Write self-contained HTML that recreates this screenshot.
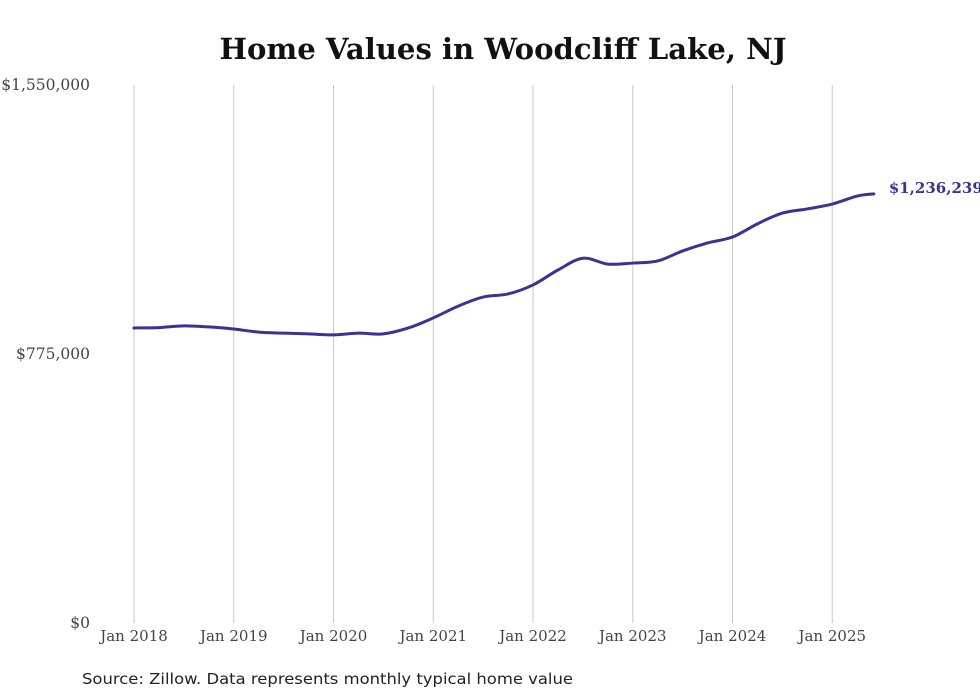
<!DOCTYPE html>
<html><head><meta charset="utf-8"><style>
body{margin:0;background:#fff;}
svg{display:block;}
</style></head><body>
<svg id="chart" width="980" height="699" viewBox="0 0 980 699" xmlns="http://www.w3.org/2000/svg">
<text x="503" y="59" text-anchor="middle" font-family="DejaVu Serif, Liberation Serif, serif" font-weight="bold" font-size="29" textLength="567" lengthAdjust="spacingAndGlyphs" fill="#111">Home Values in Woodcliff Lake, NJ</text>
<g id="grid"></g>
<g id="yaxis"></g>
<g id="xaxis"></g>
<path id="line" fill="none" stroke="#3b3294" stroke-width="3" stroke-linejoin="round" stroke-linecap="round"/>
<text id="endlabel" font-family="DejaVu Serif, Liberation Serif, serif" font-weight="bold" font-size="15" fill="#3b3294"></text>
<text x="82" y="684" font-family="DejaVu Sans, Liberation Sans, sans-serif" font-size="15.5" textLength="491" lengthAdjust="spacingAndGlyphs" fill="#222">Source: Zillow. Data represents monthly typical home value</text>
</svg>
<script>
// months since Jan 2018
const months = [0,3,6,9,12,15,18,21,24,27,30,33,36,39,42,45,48,51,54,57,60,63,66,69,72,75,78,81,84,87,89];
const values = [850000,851000,856000,853000,847000,838000,835000,833000,830000,835000,833000,850000,879000,913000,939000,948000,974000,1017000,1051000,1034000,1037000,1043000,1072000,1095000,1112000,1150000,1181000,1193000,1207000,1230000,1236239];
const yTicks = [0,775000,1550000];
const yTickLabels = ["$0","$775,000","$1,550,000"];
const xTickYears = [2018,2019,2020,2021,2022,2023,2024,2025];
const lastLabel = "$1,236,239";

const NS="http://www.w3.org/2000/svg";
const x0=134, pxPerMonth=99.75/12, yTop=85, yBot=623, yMax=1550000;
const xS=m=>x0+m*pxPerMonth;
const yS=v=>yBot-(v/yMax)*(yBot-yTop);
function mk(tag,attrs,parent){const e=document.createElementNS(NS,tag);for(const k in attrs)e.setAttribute(k,attrs[k]);parent.appendChild(e);return e;}
const grid=document.getElementById('grid'), xa=document.getElementById('xaxis'), ya=document.getElementById('yaxis');
xTickYears.forEach((yr)=>{
  const x=xS((yr-2018)*12);
  const l=mk('line',{x1:x,x2:x,y1:yTop,y2:yBot,stroke:'#c8c8c8','stroke-width':1},grid);
  
  
  const t=mk('text',{x:x,y:641,'text-anchor':'middle','font-family':'DejaVu Serif, Liberation Serif, serif','font-size':15,fill:'#444'},xa);
  t.textContent='Jan '+yr;
  
  
});
yTicks.forEach((v,i)=>{
  const t=mk('text',{x:90,y:yS(v)+5,'text-anchor':'end','font-family':'DejaVu Serif, Liberation Serif, serif','font-size':15.5,fill:'#444'},ya);
  t.textContent=yTickLabels[i];
  
  
});
const pts=months.map((m,i)=>[xS(m),yS(values[i])]);
let d='M'+pts[0][0]+','+pts[0][1];
for(let i=0;i<pts.length-1;i++){
  const p0=pts[Math.max(0,i-1)],p1=pts[i],p2=pts[i+1],p3=pts[Math.min(pts.length-1,i+2)];
  const c1=[p1[0]+(p2[0]-p0[0])/6,p1[1]+(p2[1]-p0[1])/6];
  const c2=[p2[0]-(p3[0]-p1[0])/6,p2[1]-(p3[1]-p1[1])/6];
  d+=' C'+c1[0]+','+c1[1]+' '+c2[0]+','+c2[1]+' '+p2[0]+','+p2[1];
}
document.getElementById('line').setAttribute('d',d);
const last=pts[pts.length-1];
const el=document.getElementById('endlabel');
el.setAttribute('x',last[0]+15);
el.setAttribute('y',last[1]-1);
el.textContent=lastLabel;
</script>
</body></html>
